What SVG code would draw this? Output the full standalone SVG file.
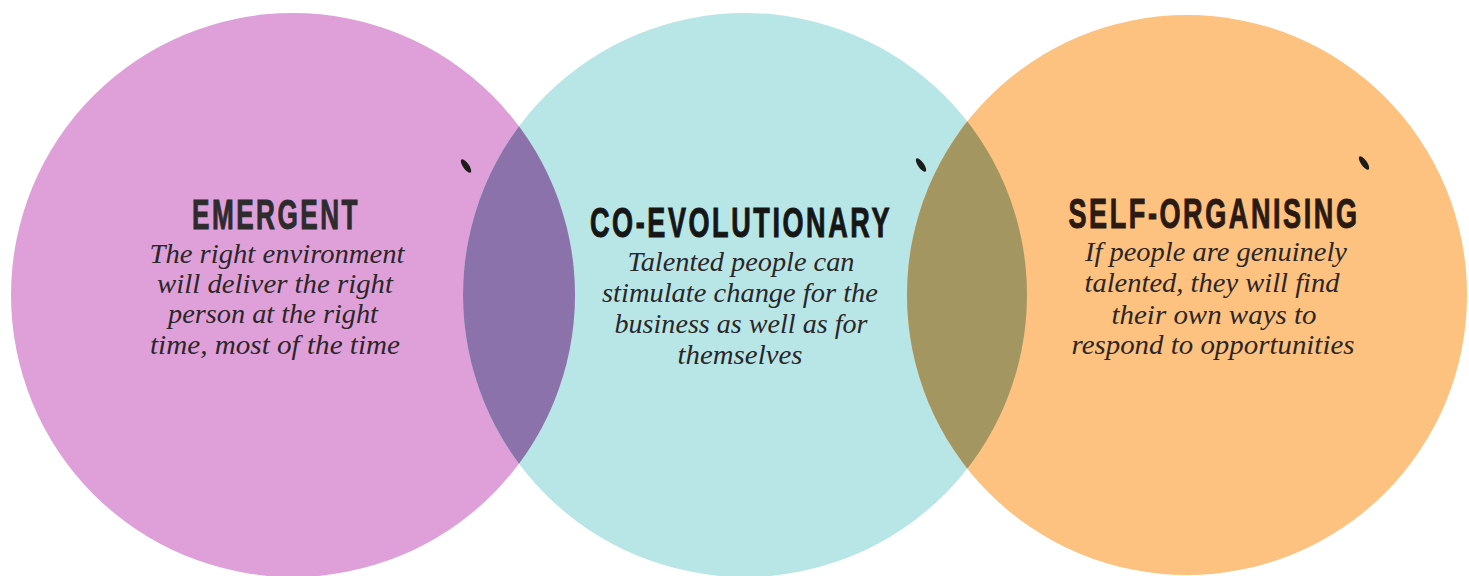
<svg xmlns="http://www.w3.org/2000/svg" width="1469" height="576" viewBox="0 0 1469 576">
  <style>
    .head { font-family: "Liberation Sans Narrow", "Liberation Sans", Arial, sans-serif; font-weight: bold; font-size: 42px; letter-spacing: 4px; text-anchor: middle; stroke-width: 1; }
    .body { font-family: "Liberation Serif", "Times New Roman", serif; font-style: italic; font-size: 28px; text-anchor: middle; fill: #2b2628; }
    .mark { fill: #1c1c1c; }
  </style>
  <defs>
    <clipPath id="clipLeft"><circle cx="293" cy="295" r="282"/></clipPath>
    <clipPath id="clipRight"><circle cx="1187" cy="295" r="280"/></clipPath>
  </defs>
  <rect width="1469" height="576" fill="#ffffff"/>

  <g id="node-emergent-circle">
    <circle cx="293" cy="295" r="282" fill="#dfa0d9"/>
  </g>
  <g id="node-coevolutionary-circle">
    <circle cx="745" cy="295" r="282" fill="#b8e6e7"/>
  </g>
  <g id="node-selforganising-circle">
    <circle cx="1187" cy="295" r="280" fill="#fdc27f"/>
  </g>
  <g id="overlaps">
    <circle cx="745" cy="295" r="282" fill="#8b72ab" clip-path="url(#clipLeft)"/>
    <circle cx="745" cy="295" r="282" fill="#a49661" clip-path="url(#clipRight)"/>
  </g>
  <g id="marks">
    <ellipse class="mark" cx="466" cy="166" rx="3" ry="8" transform="rotate(-35 466 166)"/>
    <ellipse class="mark" cx="921" cy="165" rx="3" ry="8" transform="rotate(-35 921 165)"/>
    <ellipse class="mark" cx="1364" cy="163" rx="3" ry="8" transform="rotate(-35 1364 163)"/>
  </g>

  <g id="node-emergent">
    <text class="head" x="276" y="229" fill="#2e2b2d" stroke="#2e2b2d" textLength="168" lengthAdjust="spacingAndGlyphs">EMERGENT</text>
    <text class="body" x="277" y="263" textLength="255" lengthAdjust="spacingAndGlyphs">The right environment</text>
    <text class="body" x="275" y="293" textLength="236" lengthAdjust="spacingAndGlyphs">will deliver the right</text>
    <text class="body" x="273" y="323" textLength="210" lengthAdjust="spacingAndGlyphs">person at the right</text>
    <text class="body" x="275" y="354" textLength="250" lengthAdjust="spacingAndGlyphs">time, most of the time</text>
  </g>

  <g id="node-coevolutionary">
    <text class="head" x="741" y="237" fill="#161616" stroke="#161616" textLength="302" lengthAdjust="spacingAndGlyphs">CO-EVOLUTIONARY</text>
    <text class="body" x="741" y="271" textLength="227" lengthAdjust="spacingAndGlyphs">Talented people can</text>
    <text class="body" x="740" y="302" textLength="276" lengthAdjust="spacingAndGlyphs">stimulate change for the</text>
    <text class="body" x="741" y="333" textLength="253" lengthAdjust="spacingAndGlyphs">business as well as for</text>
    <text class="body" x="740" y="364" textLength="125" lengthAdjust="spacingAndGlyphs">themselves</text>
  </g>

  <g id="node-selforganising">
    <text class="head" x="1214" y="228" fill="#2a1a12" stroke="#2a1a12" textLength="291" lengthAdjust="spacingAndGlyphs">SELF-ORGANISING</text>
    <text class="body" x="1216" y="261" textLength="262" lengthAdjust="spacingAndGlyphs">If people are genuinely</text>
    <text class="body" x="1212" y="292" textLength="255" lengthAdjust="spacingAndGlyphs">talented, they will find</text>
    <text class="body" x="1214" y="324" textLength="205" lengthAdjust="spacingAndGlyphs">their own ways to</text>
    <text class="body" x="1213" y="354" textLength="283" lengthAdjust="spacingAndGlyphs">respond to opportunities</text>
  </g>
</svg>
